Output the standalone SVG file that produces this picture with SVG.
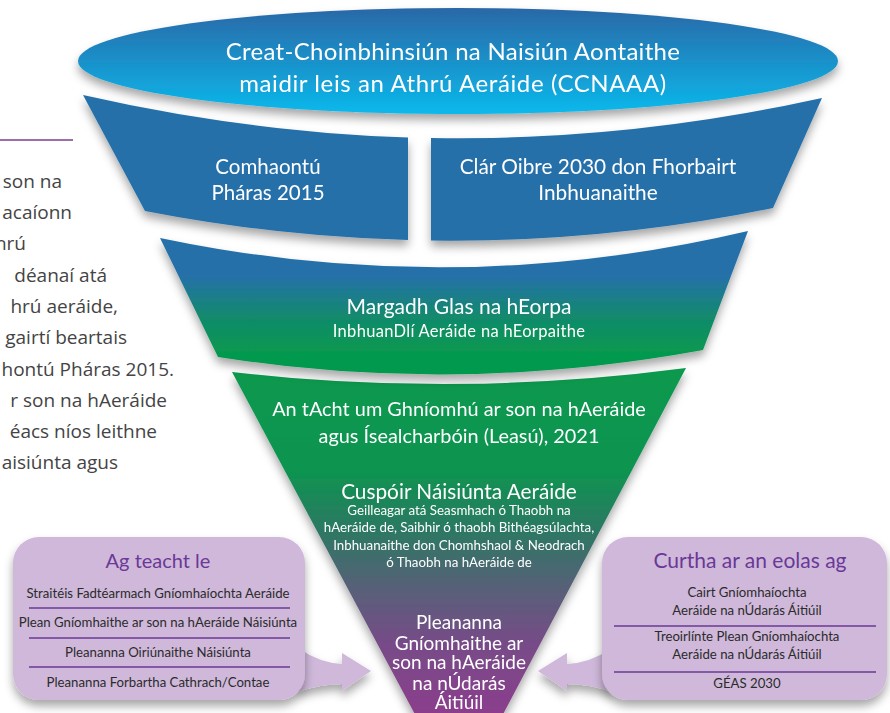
<svg xmlns="http://www.w3.org/2000/svg" width="890" height="713" viewBox="0 0 890 713">
<defs>
<style>
.t{font-family:"Lato","Noto Sans","Liberation Sans",sans-serif;text-anchor:middle;fill:#ffffff}
.side{font-family:"Open Sans","Noto Sans",sans-serif;font-size:19px;fill:#444444;text-anchor:end}
.bt{font-family:"Lato","Noto Sans","Liberation Sans",sans-serif;text-anchor:middle;fill:#6a3896}
.bi{font-family:"Lato","Noto Sans","Liberation Sans",sans-serif;text-anchor:middle;fill:#2b2b2b;font-size:13.2px}
.sep{stroke:#6a3896;stroke-width:1.5}
.box{fill:#cfb8da}
</style>
<linearGradient id="gEll" x1="0" y1="0" x2="0" y2="1">
<stop offset="0" stop-color="#2a68a7"/>
<stop offset="1" stop-color="#0ab9ec"/>
</linearGradient>
<linearGradient id="gB2" gradientUnits="userSpaceOnUse" x1="0" y1="231" x2="0" y2="375">
<stop offset="0" stop-color="#2670aa"/>
<stop offset="0.3" stop-color="#2670aa"/>
<stop offset="0.6" stop-color="#128a6c"/>
<stop offset="0.85" stop-color="#06994e"/>
<stop offset="1" stop-color="#06994e"/>
</linearGradient>
<linearGradient id="gB3" gradientUnits="userSpaceOnUse" x1="0" y1="368" x2="0" y2="713">
<stop offset="0" stop-color="#07994e"/>
<stop offset="0.3" stop-color="#0e9450"/>
<stop offset="0.47" stop-color="#2c7863"/>
<stop offset="0.64" stop-color="#586078"/>
<stop offset="0.8" stop-color="#774b88"/>
<stop offset="1" stop-color="#8b3e8c"/>
</linearGradient>
<filter id="sh" x="-10%" y="-20%" width="120%" height="150%">
<feDropShadow dx="0" dy="6" stdDeviation="5" flood-color="#000" flood-opacity="0.35"/>
</filter>
</defs>
<rect width="890" height="713" fill="#ffffff"/>

<g id="side-text">
<line x1="0" y1="140" x2="73" y2="140" stroke="#7b3f91" stroke-width="1.5"/>
<text class="side" x="62" y="188">son na</text>
<text class="side" x="72" y="219">acaíonn</text>
<text class="side" x="26" y="250">hrú</text>
<text class="side" x="107" y="282">déanaí atá</text>
<text class="side" x="118" y="313">hrú aeráide,</text>
<text class="side" x="127" y="344">gairtí beartais</text>
<text class="side" x="174" y="376">hontú Pháras 2015.</text>
<text class="side" x="167" y="407">r son na hAeráide</text>
<text class="side" x="157" y="438">éacs níos leithne</text>
<text class="side" x="118" y="469">aisiúnta agus</text>
</g>

<g id="band3" filter="url(#sh)">
<path d="M232,372 Q459,398 686,368 L500,720 Q459,740 418,720 Z" fill="url(#gB3)"/>
<text class="t" x="459" y="416" font-size="19.9">An tAcht um Ghníomhú ar son na hAeráide</text>
<text class="t" x="459" y="443" font-size="19.9">agus Ísealcharbóin (Leasú), 2021</text>
<text class="t" x="459" y="499" font-size="20.8">Cuspóir Náisiúnta Aeráide</text>
<text class="t" x="459" y="515" font-size="13.3">Geilleagar atá Seasmhach ó Thaobh na</text>
<text class="t" x="459" y="532" font-size="13.3">hAeráide de, Saibhir ó thaobh Bithéagsúlachta,</text>
<text class="t" x="459" y="550" font-size="13.3">Inbhuanaithe don Chomhshaol &amp; Neodrach</text>
<text class="t" x="459" y="567" font-size="13.3">ó Thaobh na hAeráide de</text>
<text class="t" x="459" y="629" font-size="19">Pleananna</text>
<text class="t" x="459" y="650" font-size="19">Gníomhaithe ar</text>
<text class="t" x="459" y="669" font-size="19">son na hAeráide</text>
<text class="t" x="459" y="690" font-size="19">na nÚdarás</text>
<text class="t" x="459" y="709" font-size="19">Áitiúil</text>
</g>

<g id="band2" filter="url(#sh)">
<path d="M160,238 Q455,300 748,231 L703,350 Q458,395 218,357 Z" fill="url(#gB2)"/>
<text class="t" x="459" y="314" font-size="21">Margadh Glas na hEorpa</text>
<text class="t" x="459" y="337" font-size="16.5" letter-spacing="0.3">InbhuanDlí Aeráide na hEorpaithe</text>
</g>

<g id="band1-left" filter="url(#sh)">
<path d="M83,95 Q245,132 408,137.5 L408,240 Q277,236.6 145,211 Z" fill="#2670aa"/>
<text class="t" x="268" y="174" font-size="20.5">Comhaontú</text>
<text class="t" x="268" y="200" font-size="20.5">Pháras 2015</text>
</g>

<g id="band1-right" filter="url(#sh)">
<path d="M431,138 Q626,141.5 822,98 L773,208 Q602.5,242.8 431,240.6 Z" fill="#2670aa"/>
<text class="t" x="598" y="174" font-size="20.8">Clár Oibre 2030 don Fhorbairt</text>
<text class="t" x="598" y="200" font-size="20.8">Inbhuanaithe</text>
</g>

<g id="top-ellipse" filter="url(#sh)">
<ellipse cx="458" cy="61" rx="380" ry="53" fill="url(#gEll)"/>
<text class="t" x="453" y="60" font-size="24" letter-spacing="0.3">Creat-Choinbhinsiún na Naisiún Aontaithe</text>
<text class="t" x="453" y="92" font-size="24" letter-spacing="0.6">maidir leis an Athrú Aeráide (CCNAAA)</text>
</g>

<g id="connectors">
<path class="box" filter="url(#sh)" d="M298,648 Q320,663 342,664 L342,653 L371,671 L342,691 L342,684 Q320,684 298,692 Z"/>
<path class="box" filter="url(#sh)" d="M612,648 Q590,663 567,664 L567,653 L538,671 L567,691 L567,684 Q590,684 612,692 Z"/>
</g>

<g id="box-left">
<rect class="box" filter="url(#sh)" x="13" y="537" width="292" height="163" rx="26"/>
<text class="bt" x="158" y="568" font-size="20">Ag teacht le</text>
<text class="bi" x="158" y="598">Straitéis Fadtéarmach Gníomhaíochta Aeráide</text>
<line class="sep" x1="29" y1="608" x2="290" y2="608"/>
<text class="bi" x="158" y="627">Plean Gníomhaithe ar son na hAeráide Náisiúnta</text>
<line class="sep" x1="29" y1="638" x2="290" y2="638"/>
<text class="bi" x="158" y="657">Pleananna Oiriúnaithe Náisiúnta</text>
<line class="sep" x1="29" y1="667" x2="290" y2="667"/>
<text class="bi" x="158" y="687">Pleananna Forbartha Cathrach/Contae</text>
</g>

<g id="box-right">
<rect class="box" filter="url(#sh)" x="602" y="537" width="285" height="163" rx="26"/>
<text class="bt" x="750" y="568" font-size="21">Curtha ar an eolas ag</text>
<text class="bi" x="747" y="597">Cairt Gníomhaíochta</text>
<text class="bi" x="747" y="615">Aeráide na nÚdarás Áitiúil</text>
<line class="sep" x1="614" y1="626" x2="876" y2="626"/>
<text class="bi" x="747" y="641">Treoirlínte Plean Gníomhaíochta</text>
<text class="bi" x="747" y="659">Aeráide na nÚdarás Áitiúil</text>
<line class="sep" x1="614" y1="672" x2="876" y2="672"/>
<text class="bi" x="747" y="688">GÉAS 2030</text>
</g>
</svg>
